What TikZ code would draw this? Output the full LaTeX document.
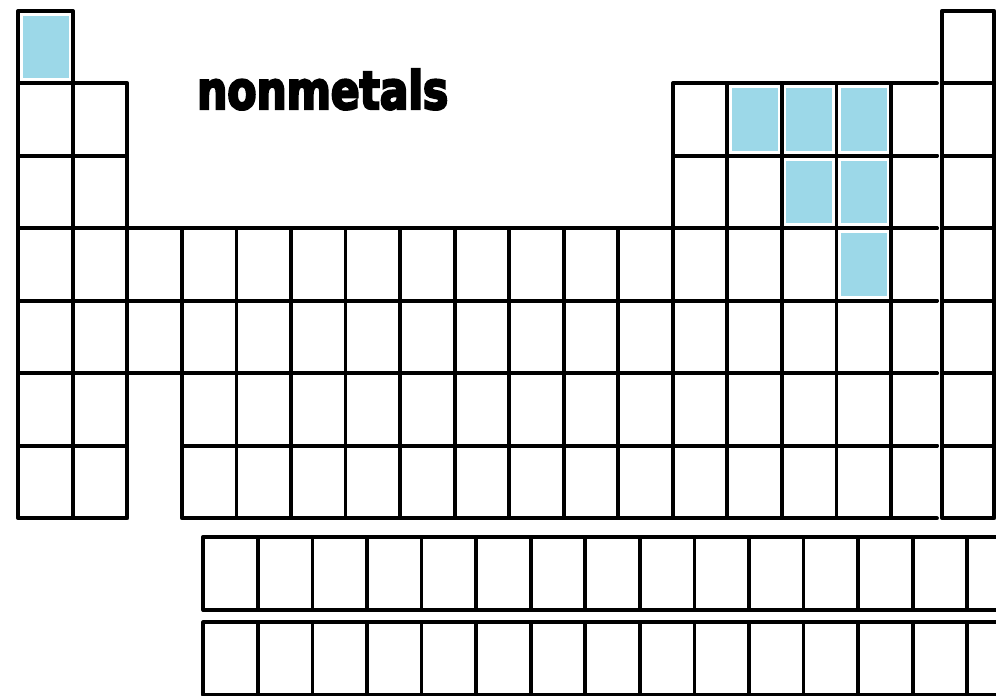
\documentclass[tikz,border=0pt]{standalone}
\usepackage{fontspec}
\newfontfamily\labelfont{DejaVu Sans Condensed Bold}
\definecolor{nonmetal}{RGB}{156,216,232}
\tikzset{
  cellline/.style={draw=black, line width=3.8pt, line join=round, line cap=round},
  bluefill/.style={fill=nonmetal, draw=none},
  titletext/.style={anchor=south west, inner sep=0pt, text=black}
}
\begin{document}
\begin{tikzpicture}[x=1pt,y=-1pt]
\useasboundingbox (0,0) rectangle (996,696);
\fill[white] (0,0) rectangle (996,696);
\begin{scope}
\clip (0,0) rectangle (996,696);
% geometry helpers
\def\cw{54.55}
\def\rh{72.5}
\def\xo{18.2}
\def\yo{83.3}
% blue cells (period, group)
\foreach \r/\g in {1/1,2/14,2/15,2/16,3/15,3/16,4/16}{
  \pgfmathsetmacro{\xl}{\xo+\cw*(\g-1)}
  \pgfmathsetmacro{\yt}{\yo+\rh*(\r-2)}
  \fill[bluefill] (\xl+4.5,\yt+5) rectangle (\xl+\cw-4,\yt+\rh-5);
}
% period 1, group 1
\draw[cellline] (\xo,\yo-\rh) rectangle (\xo+\cw,\yo);
% groups 1-2, periods 2-7
\foreach \r in {2,...,7}{
  \foreach \g in {1,2}{
    \pgfmathsetmacro{\xl}{\xo+\cw*(\g-1)}
    \pgfmathsetmacro{\yt}{\yo+\rh*(\r-2)}
    \draw[cellline] (\xl,\yt) rectangle (\xl+\cw,\yt+\rh);
  }
}
% group 3, periods 4-5
\foreach \r in {4,5}{
  \pgfmathsetmacro{\xl}{\xo+\cw*2}
  \pgfmathsetmacro{\yt}{\yo+\rh*(\r-2)}
  \draw[cellline] (\xl,\yt) rectangle (\xl+\cw,\yt+\rh);
}
% groups 4-12, periods 4-7
\foreach \r in {4,...,7}{
  \foreach \g in {4,...,12}{
    \pgfmathsetmacro{\xl}{\xo+\cw*(\g-1)}
    \pgfmathsetmacro{\yt}{\yo+\rh*(\r-2)}
    \draw[cellline] (\xl,\yt) rectangle (\xl+\cw,\yt+\rh);
  }
}
% groups 13-16, periods 2-7
\foreach \r in {2,...,7}{
  \foreach \g in {13,...,16}{
    \pgfmathsetmacro{\xl}{\xo+\cw*(\g-1)}
    \pgfmathsetmacro{\yt}{\yo+\rh*(\r-2)}
    \draw[cellline] (\xl,\yt) rectangle (\xl+\cw,\yt+\rh);
  }
  % group 17 (open on the right)
  \pgfmathsetmacro{\xl}{\xo+\cw*16}
  \pgfmathsetmacro{\yt}{\yo+\rh*(\r-2)}
  \draw[cellline] (937,\yt) -- (\xl,\yt) -- (\xl,\yt+\rh) -- (937,\yt+\rh);
}
% group 18, periods 1-7
\foreach \r in {1,...,7}{
  \pgfmathsetmacro{\yt}{\yo+\rh*(\r-2)}
  \draw[cellline] (942,\yt) rectangle (994.3,\yt+\rh);
}
% f-block rows
\def\fx{203.3}
\def\fw{54.57}
\foreach \yt/\yb in {536.7/610, 622.3/695}{
  \foreach \k in {0,...,14}{
    \pgfmathsetmacro{\xl}{\fx+\fw*\k}
    \draw[cellline] (\xl,\yt) rectangle (\xl+\fw,\yb);
  }
}
\end{scope}
\node[titletext] (title) at (197,110) {\resizebox{251pt}{40pt}{\special{pdf:literal direct 2 Tr 0.45 w 0 0 0 RG}\labelfont nonmetals\special{pdf:literal direct 0 Tr}}};
\end{tikzpicture}
\end{document}
